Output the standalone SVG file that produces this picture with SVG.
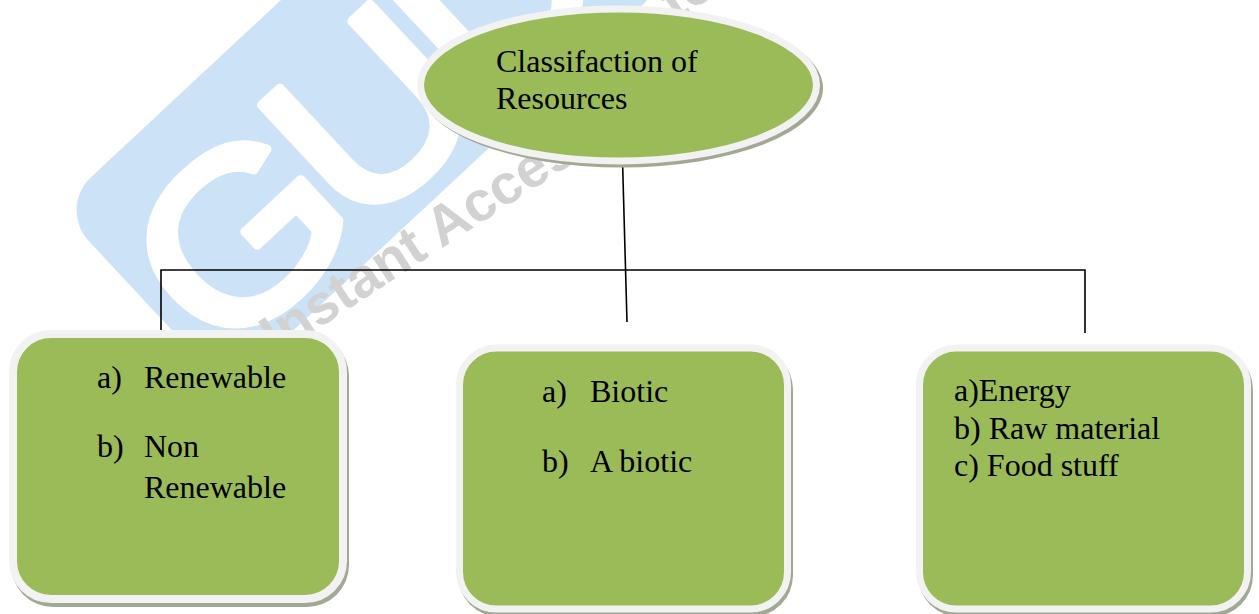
<svg xmlns="http://www.w3.org/2000/svg" width="1259" height="614" viewBox="0 0 1259 614">
  <style>
    .shadow { fill: #a2a993; }
    .node { fill: #9bbb59; stroke: #f2f2f2; }
    .lbl { font-family: "Liberation Serif", "Times New Roman", serif; font-size: 32px; fill: #000; }
    .conn { stroke: #000; stroke-width: 1.6; fill: none; }
    .wm-text { font-family: "Liberation Sans", Arial, sans-serif; font-weight: bold; font-size: 56px; fill: #d2d2d2; }
  </style>
  <rect width="1259" height="614" fill="#ffffff"/>

  <g id="watermark">
    <g transform="translate(58,208) rotate(-43)">
      <rect x="0" y="0" width="800" height="250" rx="45" fill="#cce2f7"/>
      <text transform="scale(1.1,1)" x="12.7" y="226" letter-spacing="-15" font-family="Liberation Sans, Arial, sans-serif" font-size="236" fill="#ffffff" stroke="#ffffff" stroke-width="9" stroke-linejoin="round">GUD</text>
    </g>
    <text class="wm-text" transform="translate(276,356) rotate(-33)">Instant Access</text>
    <text class="wm-text" transform="translate(676,22) rotate(-35)">to</text>
  </g>

  <g id="connectors">
    <line class="conn" x1="622.5" y1="160" x2="627" y2="322"/>
    <polyline class="conn" points="161,330 161,270 1085,270 1085,333"/>
  </g>

  <g id="node-root">
    <ellipse class="shadow" cx="621.5" cy="88" rx="201.5" ry="79.5"/>
    <ellipse class="node" cx="618.5" cy="85" rx="198" ry="76" stroke-width="7"/>
    <text class="lbl" x="496" y="72">Classifaction of</text>
    <text class="lbl" x="496" y="109">Resources</text>
  </g>

  <g id="node-left">
    <rect class="shadow" x="11" y="334" width="338" height="273" rx="42"/>
    <rect class="node" x="13" y="334" width="330" height="265" rx="38" stroke-width="8"/>
    <text class="lbl" x="97" y="388">a)</text>
    <text class="lbl" x="144" y="388">Renewable</text>
    <text class="lbl" x="97" y="457">b)</text>
    <text class="lbl" x="144" y="457">Non</text>
    <text class="lbl" x="144" y="498">Renewable</text>
  </g>

  <g id="node-middle">
    <rect class="shadow" x="458" y="348.5" width="335" height="268" rx="41"/>
    <rect class="node" x="459.5" y="348" width="328" height="261" rx="37" stroke-width="7"/>
    <text class="lbl" x="542" y="402">a)</text>
    <text class="lbl" x="590" y="402">Biotic</text>
    <text class="lbl" x="542" y="472">b)</text>
    <text class="lbl" x="590" y="472">A biotic</text>
  </g>

  <g id="node-right">
    <rect class="shadow" x="918" y="348.5" width="335" height="268" rx="41"/>
    <rect class="node" x="919.5" y="348" width="328" height="261" rx="37" stroke-width="7"/>
    <text class="lbl" x="954" y="401">a)Energy</text>
    <text class="lbl" x="954" y="438.5">b) Raw material</text>
    <text class="lbl" x="954" y="476">c) Food stuff</text>
  </g>
</svg>
